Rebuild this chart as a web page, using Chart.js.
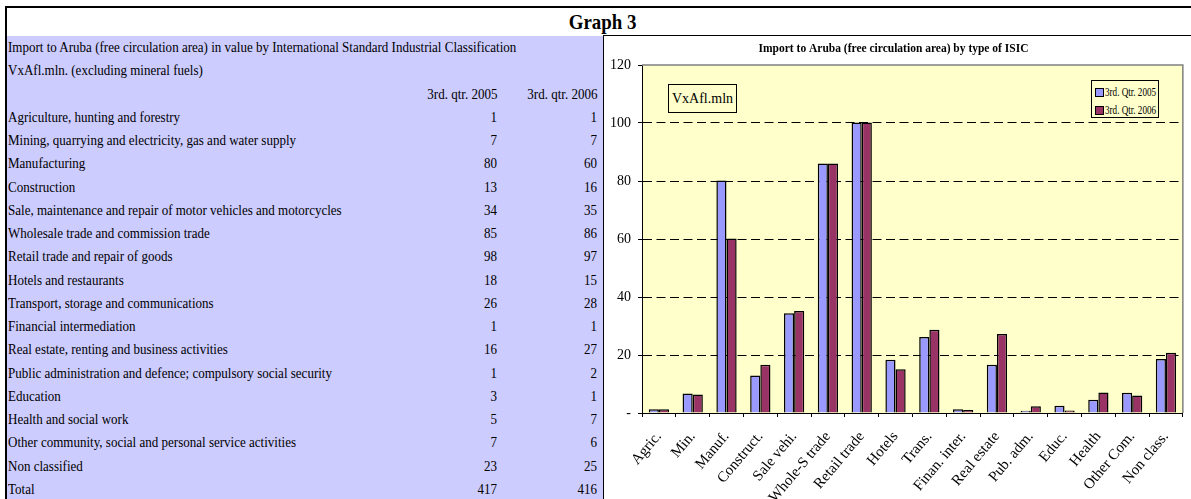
<!DOCTYPE html>
<html><head><meta charset="utf-8">
<script src="https://cdn.jsdelivr.net/npm/chart.js@4.4.1/dist/chart.umd.min.js"></script>
<style>
html,body{margin:0;padding:0;background:#fff;}
body{width:1191px;height:499px;overflow:hidden;position:relative;font-family:'Liberation Serif','Times New Roman',serif;color:#000;}
#frame{position:absolute;left:5px;top:6px;width:1200px;height:520px;border-top:2px solid #000;border-left:2px solid #000;box-sizing:border-box;}
#gtitle{position:absolute;left:0;top:8px;width:1206px;height:28px;line-height:28px;text-align:center;font-weight:bold;font-size:21px;}
#gtitle span{display:inline-block;transform:scaleX(0.9);transform-origin:center;}
#left{position:absolute;left:7px;top:36px;width:596px;height:470px;background:#ccccff;}
.row{position:absolute;left:0;width:596px;height:23.26px;line-height:23.26px;font-size:14px;white-space:nowrap;}
.row span{position:absolute;top:0;transform:scaleX(0.93)}
.n{left:1px;transform-origin:left center}
.a{right:106px;transform-origin:right center}
.b{right:6px;transform-origin:right center}
#right{position:absolute;left:603px;top:35px;width:600px;height:470px;border-left:1px solid #000;border-top:1px solid #000;background:#fff;}
#chartWrap{position:absolute;left:604px;top:36px;width:587px;height:463px;}
#unit{position:absolute;left:668px;top:84px;width:67px;height:27px;line-height:27px;border:1px solid #000;background:#ffffcc;font-size:14px;text-align:center;z-index:5;}
#legend{position:absolute;left:1091px;top:80px;width:66px;height:34px;border:1px solid #000;background:#ffffcc;font-size:13px;padding:2px 0 0 0;z-index:5;overflow:hidden}
.li{position:relative;height:18px;line-height:18px;white-space:nowrap}
.sw{position:absolute;left:3px;top:5px;width:7px;height:7px;border:1px solid #000;}
.lt{position:absolute;left:13px;top:0;display:inline-block;transform:scaleX(0.7);transform-origin:left center}
</style></head><body>
<div id="frame"></div>
<div id="gtitle"><span>Graph 3</span></div>
<div id="left"></div>
<div id="right"></div>
<div id="chartWrap"><canvas id="c" width="587" height="463"></canvas></div>
<div id="unit"></div>
<div id="legend"></div>
<script>
const FONT = "'Liberation Serif','Times New Roman',serif";
const tableTitle1 = 'Import to Aruba (free circulation area) in value by International Standard Industrial Classification';
const tableTitle2 = 'VxAfl.mln. (excluding mineral fuels)';
const tableHeaders = ['3rd. qtr. 2005', '3rd. qtr. 2006'];
const tableNames = ['Agriculture, hunting and forestry','Mining, quarrying and electricity, gas and water supply','Manufacturing','Construction','Sale, maintenance and repair of motor vehicles and motorcycles','Wholesale trade and commission trade','Retail trade and repair of goods','Hotels and restaurants','Transport, storage and communications','Financial intermediation','Real estate, renting and business activities','Public administration and defence; compulsory social security','Education','Health and social work','Other community, social and personal service activities','Non classified','Total'];
const table2005 = [1,7,80,13,34,85,98,18,26,1,16,1,3,5,7,23,417];
const table2006 = [1,7,60,16,35,86,97,15,28,1,27,2,1,7,6,25,416];

const chartTitle = 'Import to Aruba (free circulation area) by type of ISIC';
const unitLabel = 'VxAfl.mln';
const categories = ['Agric.','Min.','Manuf.','Construct.','Sale vehi.','Whole-S trade','Retail trade','Hotels','Trans.','Finan. inter.','Real estate','Pub. adm.','Educ.','Health','Other Com.','Non class.'];
const seriesLabels = ['3rd. Qtr. 2005', '3rd. Qtr. 2006'];
const series2005 = [1.3,6.7,80.2,12.9,34.4,86.0,100.2,18.4,26.2,1.3,16.6,0.8,2.5,4.6,7.0,18.6];
const series2006 = [1.3,6.4,60.2,16.6,35.2,86.0,100.2,15.1,28.7,1.0,27.2,2.3,0.9,7.1,6.0,20.8];
const seriesColors = ['#9999ff', '#993366'];
const yMin = 0, yMax = 120, yStep = 20;

const left = document.getElementById('left');
const RH = 23.26;
function addRow(i, name, a, b){
  const r = document.createElement('div'); r.className='row'; r.style.top = (i*RH)+'px';
  const n = document.createElement('span'); n.className='n'; n.textContent = name; r.appendChild(n);
  if (a !== undefined){ const s=document.createElement('span'); s.className='a'; s.textContent=a; r.appendChild(s); }
  if (b !== undefined){ const s=document.createElement('span'); s.className='b'; s.textContent=b; r.appendChild(s); }
  left.appendChild(r);
}
addRow(0, tableTitle1);
addRow(1, tableTitle2);
addRow(2, '', tableHeaders[0], tableHeaders[1]);
tableNames.forEach((nm,i)=>addRow(3+i, nm, table2005[i], table2006[i]));

document.getElementById('unit').textContent = unitLabel;
const lg = document.getElementById('legend');
seriesLabels.forEach((l,i)=>{
  const d=document.createElement('div'); d.className='li';
  const sw=document.createElement('span'); sw.className='sw'; sw.style.background=seriesColors[i];
  const t=document.createElement('span'); t.className='lt'; t.textContent=l;
  d.appendChild(sw); d.appendChild(t); lg.appendChild(d);
});

const plotBg = {
  id:'plotBg',
  beforeDraw(c){ const {ctx, chartArea:a}=c; ctx.save(); ctx.fillStyle='#ffffcc'; ctx.fillRect(a.left,a.top,a.right-a.left,a.bottom-a.top); ctx.restore(); },
  afterDraw(c){ const {ctx, chartArea:a}=c; ctx.save(); ctx.strokeStyle='#808080'; ctx.lineWidth=1.5; ctx.beginPath(); ctx.moveTo(a.left,a.top); ctx.lineTo(a.right,a.top); ctx.lineTo(a.right,a.bottom); ctx.stroke(); ctx.restore(); }
};

new Chart(document.getElementById('c'), {
  type:'bar',
  data:{ labels:categories, datasets:[
    {label:seriesLabels[0], data:series2005, backgroundColor:seriesColors[0], borderColor:'#000', borderWidth:1.5, categoryPercentage:0.6, barPercentage:1},
    {label:seriesLabels[1], data:series2006, backgroundColor:seriesColors[1], borderColor:'#000', borderWidth:1.5, categoryPercentage:0.6, barPercentage:1}
  ]},
  options:{
    responsive:false, animation:false, devicePixelRatio:1,
    layout:{padding:{left:0,right:8,top:0,bottom:0}},
    plugins:{
      legend:{display:false}, tooltip:{enabled:false},
      title:{display:true, text:chartTitle, color:'#000', font:{family:FONT,size:11.5,weight:'bold',lineHeight:1.2}, padding:{top:6.5,bottom:8.7}}
    },
    scales:{
      x:{
        grid:{display:true, drawOnChartArea:false, drawTicks:true, tickLength:4, tickColor:'#000', offset:true},
        border:{display:true,color:'#000',width:1},
        ticks:{color:'#000', font:{family:FONT,size:15}, maxRotation:50, minRotation:50, autoSkip:false, padding:11},
        afterFit(s){ s.height = 86; }
      },
      y:{
        min:yMin, max:yMax,
        ticks:{stepSize:yStep, color:'#000', font:{family:FONT,size:14}, padding:7, callback:v=> v===0 ? '-' : v},
        grid:{color:c=> (c.tick && (c.tick.value===yMin || c.tick.value===yMax)) ? 'rgba(0,0,0,0)' : '#000', lineWidth:1, tickLength:4, tickColor:'#000', tickBorderDash:[]},
        border:{display:true,color:'#000',width:1,dash:[9,4.5]},
        afterFit(s){ s.width = 38; }
      }
    }
  },
  plugins:[plotBg]
});
</script>
</body></html>
